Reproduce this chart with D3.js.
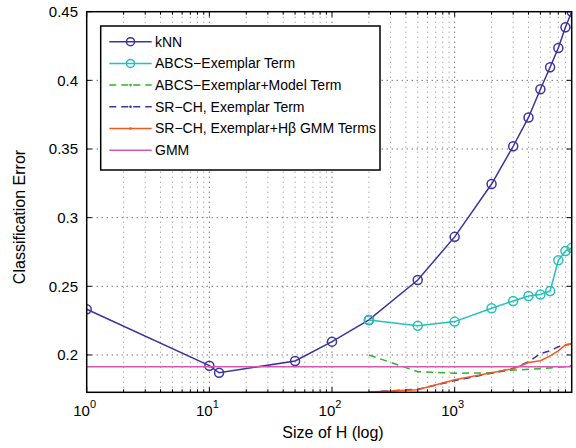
<!DOCTYPE html>
<html><head><meta charset="utf-8">
<script src="https://cdn.jsdelivr.net/npm/d3@7"></script>
<style>body{margin:0;background:#fff} svg{display:block} text{font-family:"Liberation Sans",Arial,Helvetica,sans-serif;fill:#000}</style>
</head><body><svg id="c" width="576" height="448"></svg>
<script>
// ---- data ----
const hKnn = [1, 10, 12, 50, 100, 200, 500, 1000, 2000, 3000, 4000, 5000, 6000, 7000, 8000, 9000];
const errKnn = [0.2333, 0.1922, 0.187, 0.1956, 0.2097, 0.2255, 0.2546, 0.286, 0.3245, 0.352, 0.373, 0.3935, 0.4095, 0.4235, 0.4387, 0.45];
const hLarge = [200, 500, 1000, 2000, 3000, 4000, 5000, 6000, 7000, 8000, 9000];
const errAbcsExemplar = [0.2255, 0.2213, 0.2243, 0.234, 0.2393, 0.243, 0.244, 0.2466, 0.269, 0.2757, 0.278];
const errAbcsModel = [0.200, 0.1878, 0.1867, 0.187, 0.189, 0.1895, 0.190, 0.1905, 0.191, 0.1915, 0.1925];
const errSrchExemplar = [0.173, 0.175, 0.1813, 0.1867, 0.1903, 0.195, 0.201, 0.2031, 0.206, 0.2075, 0.208];
const errSrchGmm = [0.173, 0.1747, 0.182, 0.187, 0.190, 0.1945, 0.1958, 0.1993, 0.203, 0.2073, 0.208];
const hGmm = [1, 9000];
const errGmm = [0.1915, 0.1915];
const xTickExponents = [0, 1, 2, 3];
const yTicks = [0.2, 0.25, 0.3, 0.35, 0.4, 0.45];
const seriesNames = ["kNN", "ABCS\u2212Exemplar Term", "ABCS\u2212Exemplar+Model Term", "SR\u2212CH, Exemplar Term", "SR\u2212CH, Exemplar+H\u03b2 GMM Terms", "GMM"];
const xLabel = "Size of H (log)";
const yLabel = "Classification Error";

// ---- layout ----
const L = 86.7, R = 571.7, T = 11.7, B = 392.3;
const svg = d3.select("#c");
const x = d3.scaleLog().domain([1, 9000]).range([L, R]);
const y = d3.scaleLinear().domain([0.1728, 0.45]).range([B, T]);

const minorX = [];
for (let k = 0; k <= 3; k++) for (let m = 2; m <= 9; m++) { const v = m * Math.pow(10, k); if (v < 9000) minorX.push(v); }
const majorX = xTickExponents.map(e => Math.pow(10, e));

svg.append("defs").append("clipPath").attr("id", "clip")
  .append("rect").attr("x", L).attr("y", T).attr("width", R - L).attr("height", B - T);

// grid
const g = svg.append("g");
g.selectAll(".mg").data(minorX).join("line")
  .attr("x1", d => x(d)).attr("x2", d => x(d)).attr("y1", T).attr("y2", B)
  .attr("stroke", "#777").attr("stroke-width", 0.9).attr("stroke-dasharray", "1,4");
g.selectAll(".Mg").data(majorX.slice(1)).join("line")
  .attr("x1", d => x(d)).attr("x2", d => x(d)).attr("y1", T).attr("y2", B)
  .attr("stroke", "#222").attr("stroke-width", 0.9).attr("stroke-dasharray", "1,4");
g.selectAll(".hg").data(yTicks.slice(0, -1)).join("line")
  .attr("x1", L).attr("x2", R).attr("y1", d => y(d)).attr("y2", d => y(d))
  .attr("stroke", "#222").attr("stroke-width", 0.9).attr("stroke-dasharray", "1,4");

// series
const colors = ["#3b33a3", "#22c2b9", "#2bb52b", "#3b33a3", "#f05a1e", "#d955b8"];
const dashes = [null, null, "7,5", "7,5", null, null];
const series = [
  {xs: hKnn, ys: errKnn, marker: "o"},
  {xs: hLarge, ys: errAbcsExemplar, marker: "o"},
  {xs: hLarge, ys: errAbcsModel, marker: "."},
  {xs: hLarge, ys: errSrchExemplar, marker: "."},
  {xs: hLarge, ys: errSrchGmm, marker: "."},
  {xs: hGmm, ys: errGmm, marker: null}
];
const line = d3.line().x(d => x(d[0])).y(d => y(d[1]));
const plot = svg.append("g").attr("clip-path", "url(#clip)");
series.forEach((s, i) => {
  const pts = s.xs.map((v, j) => [v, s.ys[j]]);
  plot.append("path").datum(pts).attr("d", line).attr("fill", "none")
    .attr("stroke", colors[i]).attr("stroke-width", 1.5)
    .attr("stroke-dasharray", dashes[i]);
  if (s.marker === "o") {
    plot.selectAll(null).data(pts).join("circle")
      .attr("cx", d => x(d[0])).attr("cy", d => y(d[1])).attr("r", 4.5)
      .attr("fill", "none").attr("stroke", colors[i]).attr("stroke-width", 1.5);
  }
});

// axes box and ticks
const ax = svg.append("g").attr("stroke", "#000");
ax.append("rect").attr("x", L).attr("y", T).attr("width", R - L).attr("height", B - T)
  .attr("fill", "none").attr("stroke-width", 1.5);
ax.selectAll(".xt").data(majorX).join("g").each(function(d) {
  const s = d3.select(this);
  s.append("line").attr("x1", x(d)).attr("x2", x(d)).attr("y1", B).attr("y2", B - 5);
  s.append("line").attr("x1", x(d)).attr("x2", x(d)).attr("y1", T).attr("y2", T + 5);
});
ax.selectAll(".xm").data(minorX).join("g").each(function(d) {
  const s = d3.select(this);
  s.append("line").attr("x1", x(d)).attr("x2", x(d)).attr("y1", B).attr("y2", B - 3);
  s.append("line").attr("x1", x(d)).attr("x2", x(d)).attr("y1", T).attr("y2", T + 3);
});
ax.selectAll(".yt").data(yTicks).join("g").each(function(d) {
  const s = d3.select(this);
  s.append("line").attr("x1", L).attr("x2", L + 5).attr("y1", y(d)).attr("y2", y(d));
  s.append("line").attr("x1", R).attr("x2", R - 5).attr("y1", y(d)).attr("y2", y(d));
});

// tick labels
const xl = svg.append("g");
xTickExponents.forEach(e => {
  const t = xl.append("text").attr("x", x(Math.pow(10, e)) - 2).attr("y", 416)
    .attr("text-anchor", "middle").attr("font-size", 15);
  t.append("tspan").text("10");
  t.append("tspan").attr("dy", -8).attr("font-size", 11).text(String(e));
});
svg.append("g").selectAll("text").data(yTicks).join("text")
  .attr("x", 78).attr("y", d => y(d)).attr("dy", "0.35em")
  .attr("text-anchor", "end").attr("font-size", 15)
  .text(d => d3.format("")(d));

svg.append("text").attr("x", 333).attr("y", 438).attr("text-anchor", "middle")
  .attr("font-size", 16).text(xLabel);
svg.append("text").attr("transform", "translate(25,217) rotate(-90)")
  .attr("text-anchor", "middle").attr("font-size", 16).text(yLabel);

// legend
const lg = svg.append("g");
lg.append("rect").attr("x", 100.7).attr("y", 26).attr("width", 279.3).attr("height", 144)
  .attr("fill", "#fff").attr("stroke", "#000").attr("stroke-width", 1.5);
seriesNames.forEach((name, i) => {
  const ry = 41.7 + i * 21.7;
  lg.append("line").attr("x1", 109.3).attr("x2", 151.7).attr("y1", ry).attr("y2", ry)
    .attr("stroke", colors[i]).attr("stroke-width", 1.5).attr("stroke-dasharray", dashes[i]);
  if (series[i].marker === "o") {
    lg.append("circle").attr("cx", 130.5).attr("cy", ry).attr("r", 4)
      .attr("fill", "none").attr("stroke", colors[i]).attr("stroke-width", 1.5);
  } else if (series[i].marker === ".") {
    lg.append("circle").attr("cx", 130.5).attr("cy", ry).attr("r", 1.3).attr("fill", colors[i]);
  }
  lg.append("text").attr("x", 155).attr("y", ry).attr("dy", "0.35em")
    .attr("font-size", 14).text(name);
});
</script></body></html>
